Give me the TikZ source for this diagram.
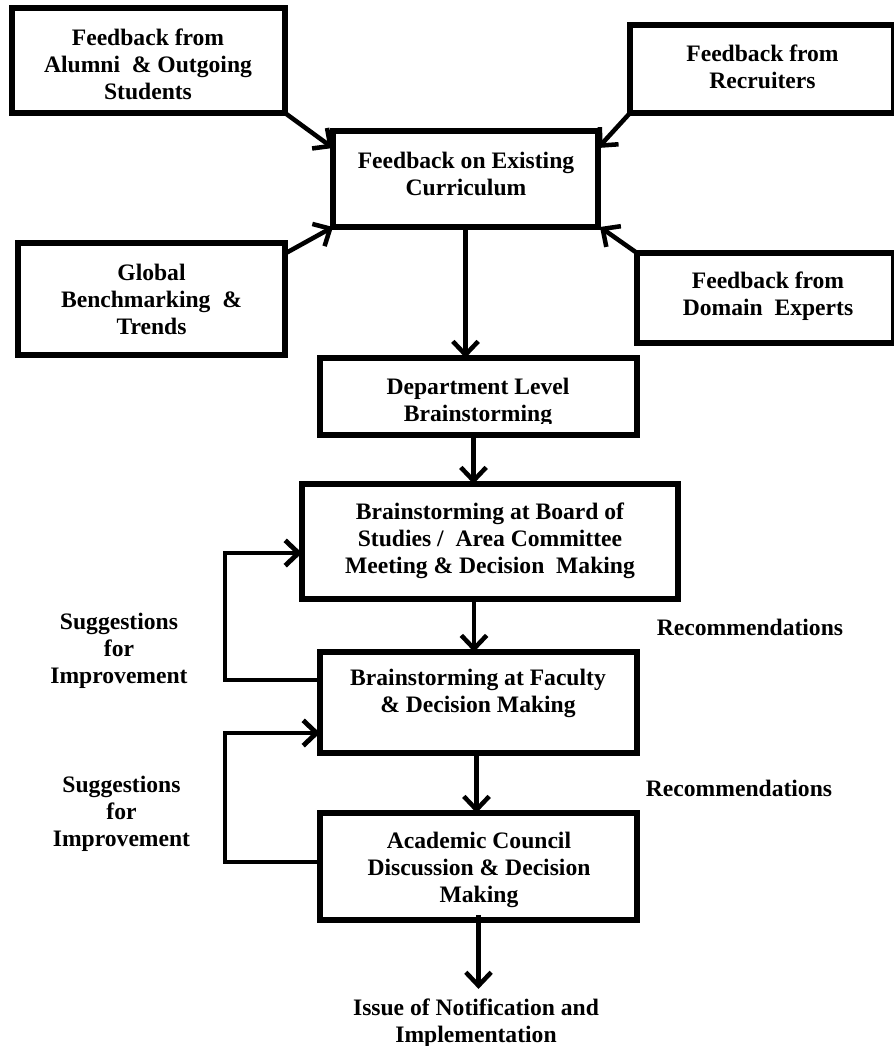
\documentclass[tikz,border=0pt]{standalone}
\usepackage{fontspec}
\setmainfont{Liberation Serif}
\usetikzlibrary{arrows.meta,calc}
\begin{document}
\begin{tikzpicture}[x=0.75pt,y=-0.75pt,
  box/.style={draw=black,line width=3.8pt,outer sep=0pt,inner sep=0pt,rectangle},
  txt/.style={inner sep=0pt,align=center,font=\fontsize{17.7pt}{20.25pt}\selectfont\bfseries},
  arr/.style={line width=3.4pt,-{Straight Barb[length=10pt,width=19pt]}},
  loop/.style={line width=3.6pt,line join=miter,-{Straight Barb[length=10pt,width=19pt]}}]
\useasboundingbox (0,0) rectangle (893,1046);
% boxes
\node[box,minimum width=273*0.75pt,minimum height=105*0.75pt] (A) at (148.5,60.5) {};
\node[box,minimum width=265*0.75pt,minimum height=96*0.75pt] (B) at (465.5,179) {};
\node[box,minimum width=264*0.75pt,minimum height=88*0.75pt] (C) at (762,69) {};
\node[box,minimum width=267*0.75pt,minimum height=112*0.75pt] (D) at (151.5,299) {};
\node[box,minimum width=257*0.75pt,minimum height=90*0.75pt] (E) at (765.5,298) {};
\node[box,minimum width=317*0.75pt,minimum height=77*0.75pt] (Dept) at (478.5,396.5) {};
\node[box,minimum width=376*0.75pt,minimum height=115*0.75pt] (Board) at (490,541.5) {};
\node[box,minimum width=317*0.75pt,minimum height=101*0.75pt] (Fac) at (478.5,702.5) {};
\node[box,minimum width=317*0.75pt,minimum height=107*0.75pt] (Acad) at (478.5,866.5) {};
% texts
\node[txt] (At) at (148,64) {Feedback from\\Alumni \ \& Outgoing\\Students};
\node[txt] (Bt) at (466,173.5) {Feedback on Existing\\Curriculum};
\node[txt] (Ct) at (762.5,66.5) {Feedback from\\Recruiters};
\node[txt] (Dt) at (151.5,299.5) {Global\\Benchmarking \ \&\\Trends};
\node[txt] (Et) at (768,296) {Feedback from\\Domain \ Experts};
\begin{scope}
  \clip ($(Dept.north west)+(0,5)$) rectangle ($(Dept.south east)+(0,-12)$);
  \node[txt] (Deptt) at (478,402) {Department Level\\Brainstorming};
\end{scope}
\node[txt] (Boardt) at (490,540.5) {Brainstorming at Board of\\Studies / \ Area Committee\\Meeting \& Decision \ Making};
\node[txt] (Fact) at (478,693.5) {Brainstorming at Faculty\\\& Decision Making};
\node[txt] (Acadt) at (479,869.5) {Academic Council\\Discussion \& Decision\\Making};
\node[txt] (Out) at (476,1023.5) {Issue of Notification and\\Implementation};
\node[txt] (Rec1) at (750,627) {Recommendations};
\node[txt] (Rec2) at (739,788) {Recommendations};
\node[txt] (Sug1) at (119,650.5) {Suggestions\\for\\Improvement};
\node[txt] (Sug2) at (121.5,813.5) {Suggestions\\for\\Improvement};
% connector start points
\coordinate (s1) at ($(Dept.south)+(-5,0)$);
\coordinate (s2) at ($(Board.south)+(-16,0)$);
\coordinate (s3) at ($(Fac.south)+(-2,0)$);
\coordinate (s4) at ($(Acad.south)+(0,-5)$);
\coordinate (e4) at ($(Out.north)+(0,-10)$);
% connectors
\draw[arr] (A.south east) -- ($(B.north west)+(0,17)$);
\draw[arr] ($(D.north east)+(1,10)$) -- (B.south west);
\draw[arr] (C.south west) -- ($(B.north east)+(0,17)$);
\draw[arr] (E.north west) -- ($(B.south east)+(2,0)$);
\draw[arr] (B.south) -- (B.south |- Dept.north);
\draw[arr] (s1) -- (s1 |- Board.north);
\draw[arr] (s2) -- (s2 |- Fac.north);
\draw[arr] (s3) -- (s3 |- Acad.north);
\draw[arr] (s4) -- (s4 |- e4);
\draw[loop] ($(Fac.north west)+(0,28)$) -- ++(-95,0) |- ($(Board.north west)+(0,69)$);
\draw[loop] ($(Acad.north west)+(0,49)$) -- ++(-95,0) |- ($(Fac.north west)+(0,81)$);
\end{tikzpicture}
\end{document}
